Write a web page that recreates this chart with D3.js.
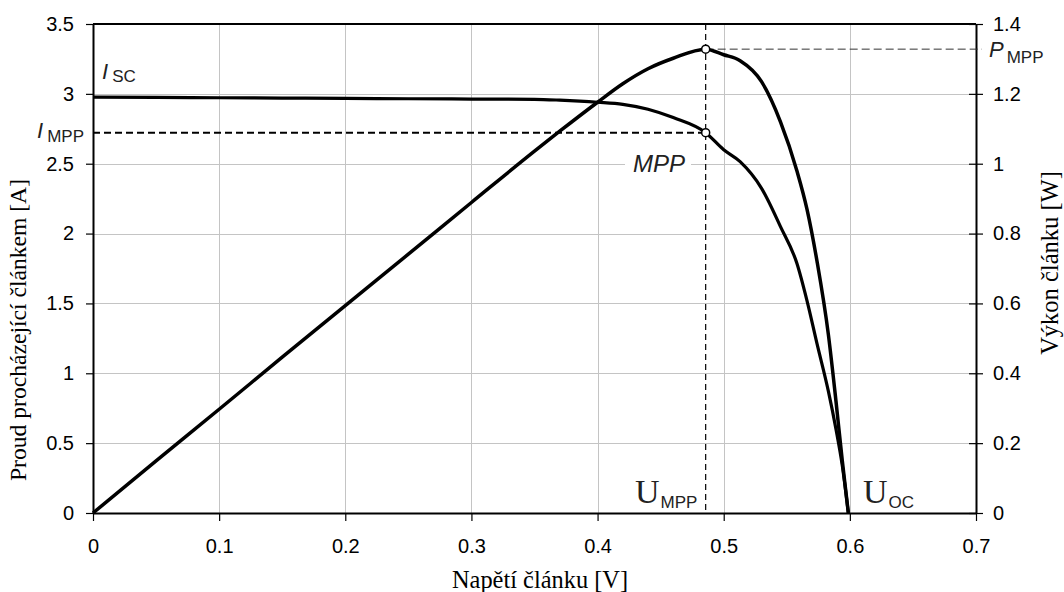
<!DOCTYPE html>
<html><head><meta charset="utf-8">
<script src="https://cdn.jsdelivr.net/npm/d3@7"></script>
<style>
html,body{margin:0;padding:0;background:#fff;}
svg{display:block;}
</style></head>
<body>
<svg id="chart" width="1064" height="592"></svg>
<script>
// ---- data ----
const voltage = [0, 0.05, 0.1, 0.15, 0.2, 0.25, 0.3, 0.35, 0.37, 0.40, 0.42, 0.44, 0.46, 0.4857, 0.50, 0.513, 0.53, 0.545, 0.558, 0.566, 0.574, 0.583, 0.589, 0.594, 0.5988];
const current = [2.976, 2.975, 2.972, 2.970, 2.968, 2.965, 2.963, 2.961, 2.955, 2.940, 2.925, 2.890, 2.830, 2.722, 2.600, 2.515, 2.324, 2.050, 1.787, 1.52, 1.21, 0.87, 0.60, 0.34, 0];
const power   = [0, 0.149, 0.297, 0.446, 0.594, 0.741, 0.889, 1.036, 1.093, 1.176, 1.229, 1.272, 1.302, 1.328, 1.312, 1.295, 1.235, 1.120, 0.980, 0.870, 0.720, 0.510, 0.320, 0.150, 0];
const mppPoint = [0.4857, 2.722, 1.328]; // U_MPP, I_MPP, P_MPP
const xTicks = [0, 0.1, 0.2, 0.3, 0.4, 0.5, 0.6, 0.7];
const yLeftTicks = [0, 0.5, 1, 1.5, 2, 2.5, 3, 3.5];
const yRightTicks = [0, 0.2, 0.4, 0.6, 0.8, 1, 1.2, 1.4];
const xLabel = "Napětí článku [V]";
const yLeftLabel = "Proud procházející článkem [A]";
const yRightLabel = "Výkon článku [W]";

// ---- layout ----
const W = 1064, H = 592;
const m = {left: 93, right: 88, top: 24, bottom: 79};
const svg = d3.select("#chart");
const x = d3.scaleLinear().domain([0, 0.7]).range([m.left, W - m.right]);
const yL = d3.scaleLinear().domain([0, 3.5]).range([H - m.bottom, m.top]);
const yR = d3.scaleLinear().domain([0, 1.4]).range([H - m.bottom, m.top]);
const sans = "'Liberation Sans', Arial, sans-serif";
const serif = "'Liberation Serif', 'Times New Roman', serif";
const fmt = d3.format("~g");

// gridlines
const grid = svg.append("g").attr("stroke", "#c4c4c4").attr("stroke-width", 1);
grid.selectAll("line.v").data(xTicks.filter(t => t > 0 && t < 0.7)).join("line")
  .attr("x1", d => Math.round(x(d)) + 0.5).attr("x2", d => Math.round(x(d)) + 0.5)
  .attr("y1", yL(3.5)).attr("y2", yL(0));
grid.selectAll("line.h").data(yLeftTicks.filter(t => t > 0 && t < 3.5)).join("line")
  .attr("y1", d => Math.round(yL(d)) + 0.5).attr("y2", d => Math.round(yL(d)) + 0.5)
  .attr("x1", x(0)).attr("x2", x(0.7));

// frame (top)
svg.append("line").attr("x1", x(0)).attr("x2", x(0.7)).attr("y1", yL(3.5)).attr("y2", yL(3.5))
  .attr("stroke", "#000").attr("stroke-width", 2);

// axes
const axB = svg.append("g").attr("transform", `translate(0,${yL(0)})`)
  .call(d3.axisBottom(x).tickValues(xTicks).tickFormat(fmt).tickSize(8).tickPadding(18).tickSizeOuter(0));
const axL = svg.append("g").attr("transform", `translate(${x(0)},0)`)
  .call(d3.axisLeft(yL).tickValues(yLeftTicks).tickFormat(fmt).tickSize(7).tickPadding(12).tickSizeOuter(0));
const axR = svg.append("g").attr("transform", `translate(${x(0.7)},0)`)
  .call(d3.axisRight(yR).tickValues(yRightTicks).tickFormat(fmt).tickSize(7).tickPadding(10).tickSizeOuter(0));
axR.selectAll(".tick line").attr("x1", -7);
[axB, axL, axR].forEach(a => {
  a.select(".domain").attr("stroke", "#000").attr("stroke-width", 2);
  a.selectAll(".tick line").attr("stroke", "#000").attr("stroke-width", 1.2);
  a.selectAll("text").attr("font-family", sans).attr("font-size", 20).attr("fill", "#000");
});

// MPP guide lines
const u = mppPoint[0], im = mppPoint[1], pm = mppPoint[2];
svg.append("line").attr("x1", x(u)).attr("x2", x(u)).attr("y1", yL(3.5)).attr("y2", yL(0))
  .attr("stroke", "#000").attr("stroke-width", 1.2).attr("stroke-dasharray", "6,4");
svg.append("line").attr("x1", x(0)).attr("x2", x(u)).attr("y1", yL(im)).attr("y2", yL(im))
  .attr("stroke", "#000").attr("stroke-width", 2).attr("stroke-dasharray", "7,4");
svg.append("line").attr("x1", x(u)).attr("x2", x(0.7) + 6).attr("y1", yR(pm)).attr("y2", yR(pm))
  .attr("stroke", "#333").attr("stroke-width", 1).attr("stroke-dasharray", "8,4");

// curves
const ivData = voltage.map((v, i) => [v, current[i]]);
const pvData = voltage.map((v, i) => [v, power[i]]);
svg.append("path").datum(ivData)
  .attr("d", d3.line().x(d => x(d[0])).y(d => yL(d[1])).curve(d3.curveMonotoneX))
  .attr("fill", "none").attr("stroke", "#000").attr("stroke-width", 3.2).attr("stroke-linejoin", "round");
svg.append("path").datum(pvData)
  .attr("d", d3.line().x(d => x(d[0])).y(d => yR(d[1])).curve(d3.curveMonotoneX))
  .attr("fill", "none").attr("stroke", "#000").attr("stroke-width", 3.5).attr("stroke-linejoin", "round");

// MPP markers
svg.append("circle").attr("cx", x(u)).attr("cy", yL(im)).attr("r", 4)
  .attr("fill", "#fff").attr("stroke", "#000").attr("stroke-width", 1.5);
svg.append("circle").attr("cx", x(u)).attr("cy", yR(pm)).attr("r", 4)
  .attr("fill", "#fff").attr("stroke", "#000").attr("stroke-width", 1.5);

// axis titles
svg.append("text").attr("x", 540).attr("y", 588).attr("text-anchor", "middle")
  .attr("font-family", serif).attr("font-size", 24.4).text(xLabel);
svg.append("text").attr("transform", "translate(26,330) rotate(-90)").attr("text-anchor", "middle")
  .attr("font-family", serif).attr("font-size", 23.6).text(yLeftLabel);
svg.append("text").attr("transform", "translate(1058,263) rotate(-90)").attr("text-anchor", "middle")
  .attr("font-family", serif).attr("font-size", 24.5).text(yRightLabel);

// annotations
function symLabel(px, py, main, sub, opts) {
  const t = svg.append("text").attr("x", px).attr("y", py).attr("fill", "#222");
  t.append("tspan").attr("font-family", opts.serif ? serif : sans)
    .attr("font-style", opts.serif ? "normal" : "italic").attr("font-size", opts.size).text(main);
  t.append("tspan").attr("font-family", sans).attr("font-size", 17).attr("dx", opts.dx || 2)
    .attr("dy", opts.dy || 4).text(sub);
  return t;
}
symLabel(102, 79, "I", "SC", {size: 22, dx: 4, dy: 3});
symLabel(37, 138, "I", "MPP", {size: 22, dx: 4, dy: 4});
symLabel(989, 57, "P", "MPP", {size: 22, dx: 3, dy: 6});
symLabel(635, 503, "U", "MPP", {size: 34, serif: true, dx: 1, dy: 5});
symLabel(863, 503, "U", "OC", {size: 34, serif: true, dx: 1, dy: 5});

const mppT = svg.append("text").attr("x", 633).attr("y", 172).attr("font-family", sans)
  .attr("font-style", "italic").attr("font-size", 24).attr("fill", "#222").text("MPP");
const bb = mppT.node().getBBox();
svg.insert("rect", () => mppT.node()).attr("x", bb.x - 8).attr("y", bb.y + 2)
  .attr("width", bb.width + 14).attr("height", bb.height - 4).attr("fill", "#fff");
</script>
</body></html>
